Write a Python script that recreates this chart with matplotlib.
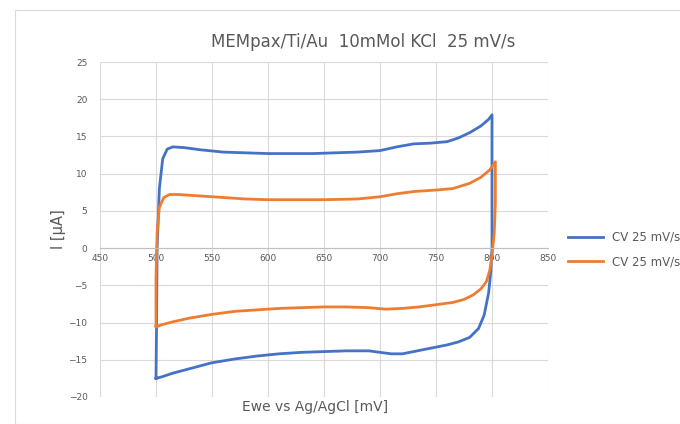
#!/usr/bin/env python

import numpy as np
import matplotlib
matplotlib.use("Agg")
import matplotlib.pyplot as plt
from matplotlib.patches import Rectangle

# values (potential in mV, current in uA)
cv_blue_x = [500, 500.5, 501, 503, 506, 510, 515, 525, 540, 560, 580, 600, 620, 640,
             660, 680, 700, 715, 730, 745, 760, 770, 780, 790, 797, 800, 800, 800,
             799, 797, 793, 788, 780, 770, 760, 750, 740, 730, 720, 710, 700, 690,
             670, 650, 630, 610, 590, 570, 550, 530, 515, 505, 500, 500]
cv_blue_y = [-17.5, -10, 0, 8, 12, 13.3, 13.6, 13.5, 13.2, 12.9, 12.8, 12.7, 12.7, 12.7,
             12.8, 12.9, 13.1, 13.6, 14.0, 14.1, 14.3, 14.8, 15.5, 16.4, 17.3, 17.9, 10, 0,
             -3, -6, -9, -10.8, -12, -12.6, -13, -13.3, -13.6, -13.9, -14.2, -14.2, -14.0, -13.8,
             -13.8, -13.9, -14.0, -14.2, -14.5, -14.9, -15.4, -16.2, -16.8, -17.3, -17.5, -17.5]

cv_orange_x = [500, 500, 501, 503, 507, 512, 520, 540, 560, 580, 600, 620, 650, 680,
               700, 715, 730, 750, 765, 780, 790, 798, 803, 803, 802, 800, 798, 795,
               790, 783, 775, 765, 750, 735, 720, 705, 690, 670, 650, 630, 610, 590,
               570, 550, 530, 515, 505, 500, 500]
cv_orange_y = [-10.5, -4, 2, 5.5, 6.8, 7.2, 7.2, 7.0, 6.8, 6.6, 6.5, 6.5, 6.5, 6.6,
               6.9, 7.3, 7.6, 7.8, 8.0, 8.7, 9.5, 10.5, 11.6, 6, 2, -1, -3, -4.5,
               -5.5, -6.3, -6.9, -7.3, -7.6, -7.9, -8.1, -8.2, -8.0, -7.9, -7.9, -8.0, -8.1, -8.3,
               -8.5, -8.9, -9.4, -9.9, -10.3, -10.6, -10.5]

labels = ["CV 25 mV/s", "CV 25 mV/s"]
title = "MEMpax/Ti/Au  10mMol KCl  25 mV/s"
xticks = np.arange(450, 851, 50)
yticks = np.arange(-20, 26, 5)

def main():
    gray = "#595959"
    fig = plt.figure(figsize=(6.8, 4.24), dpi=100)
    fig.patches.append(Rectangle((15/680, 0), 1, 1-10/424, transform=fig.transFigure,
                                 fill=False, edgecolor="#d9d9d9", lw=0.8))
    ax = fig.add_axes([100/680, 1-397/424, 448/680, 335/424])

    ax.plot(cv_blue_x, cv_blue_y, color="#4472c4", lw=2.0, label=labels[0])
    ax.plot(cv_orange_x, cv_orange_y, color="#ed7d31", lw=2.0, label=labels[1])

    ax.set_xlim(450, 850)
    ax.set_ylim(-20, 25)
    ax.set_xticks(xticks)
    ax.set_yticks(yticks)
    ax.grid(True, color="#d9d9d9", lw=0.8)
    ax.set_axisbelow(True)
    for s in ["top", "right", "left"]:
        ax.spines[s].set_visible(False)
    ax.spines["bottom"].set_position(("data", 0))
    ax.spines["bottom"].set_color("#bfbfbf")
    ax.tick_params(length=0, labelsize=6.5, colors=gray, pad=4)
    ax.tick_params(axis="y", pad=9)

    # chart title is centred on the (wider) chart area, not on the plot
    fig.text(363/680, 1-42/424, title, fontsize=12, color=gray, ha="center", va="center")
    ax.set_ylabel("I [µA]", fontsize=10.5, color=gray, labelpad=2)
    ax.set_xlabel("Ewe vs Ag/AgCl [mV]", fontsize=10, color=gray)
    ax.xaxis.set_label_coords(0.48, -0.01)

    ax.legend(loc="center left", bbox_to_anchor=(1.02, 0.44), frameon=False,
              fontsize=8.5, labelcolor=gray, handlelength=3.0, labelspacing=1.0)

    fig.savefig("out.png", dpi=100)
    plt.close()

if __name__ == "__main__":
    main()
